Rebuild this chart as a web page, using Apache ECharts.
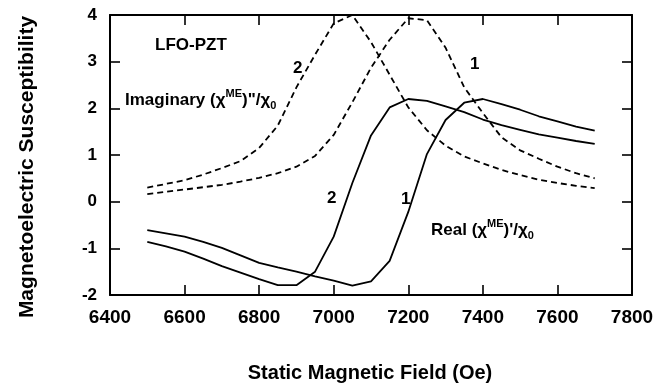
<!DOCTYPE html>
<html>
<head>
<meta charset="utf-8">
<script src="https://cdn.jsdelivr.net/npm/echarts@6/dist/echarts.min.js"></script>
<style>
  html, body { margin: 0; padding: 0; background: #fff; }
  #chart { width: 669px; height: 390px; }
</style>
</head>
<body>
<div id="chart"></div>
<script>
// Static magnetic field (Oe), sampled every 50 Oe
const field = [6500, 6550, 6600, 6650, 6700, 6750, 6800, 6850, 6900, 6950,
               7000, 7050, 7100, 7150, 7200, 7250, 7300, 7350, 7400, 7450,
               7500, 7550, 7600, 7650, 7700];

// Real part (chi^ME)'/chi_0, samples 1 and 2
const real1 = [-0.61, -0.68, -0.75, -0.86, -0.99, -1.15, -1.31, -1.41, -1.50, -1.60,
               -1.69, -1.80, -1.71, -1.27, -0.22, 1.02, 1.75, 2.12, 2.20, 2.09,
               1.97, 1.83, 1.72, 1.61, 1.52];
const real2 = [-0.86, -0.96, -1.07, -1.22, -1.38, -1.52, -1.66, -1.79, -1.79, -1.50,
               -0.75, 0.40, 1.42, 2.02, 2.20, 2.16, 2.04, 1.92, 1.76, 1.64,
               1.54, 1.44, 1.37, 1.30, 1.24];

// Imaginary part (chi^ME)''/chi_0, samples 1 and 2
const imag1 = [0.16, 0.21, 0.26, 0.31, 0.36, 0.43, 0.51, 0.61, 0.75, 0.98,
               1.43, 2.13, 2.87, 3.47, 3.93, 3.89, 3.30, 2.45, 1.90, 1.38,
               1.10, 0.92, 0.75, 0.61, 0.50];
const imag2 = [0.30, 0.38, 0.46, 0.58, 0.72, 0.87, 1.15, 1.63, 2.45, 3.15,
               3.82, 4.00, 3.42, 2.72, 2.02, 1.53, 1.20, 0.97, 0.82, 0.68,
               0.57, 0.47, 0.40, 0.34, 0.29];

const xTicks = { min: 6400, max: 7800, step: 200 };
const yTicks = { min: -2, max: 4, step: 1 };

const FONT = '"Liberation Sans", Arial, sans-serif';
const pairs = vals => field.map((f, i) => [f, vals[i]]);

const chart = echarts.init(document.getElementById('chart'), null, { renderer: 'canvas' });

const tickIn = { show: true, inside: true, length: 10, lineStyle: { color: '#000', width: 1.6 } };
const frameLine = { show: true, onZero: false, lineStyle: { color: '#000', width: 2 } };

function lineSeries(name, vals, dashed) {
  return {
    name, type: 'line', data: pairs(vals), showSymbol: false, smooth: false,
    xAxisIndex: 0, yAxisIndex: 0, animation: false,
    lineStyle: { color: '#000', width: 1.8, type: dashed ? [6, 4] : 'solid' }
  };
}

const txt = (x, y, text, size, extra, rotation) => ({
  type: 'text', x, y, silent: true, rotation: rotation || 0,
  style: Object.assign({
    text, fill: '#000', fontFamily: FONT, fontWeight: 'bold', fontSize: size,
    textVerticalAlign: 'middle'
  }, extra || {})
});

const chiRich = {
  b: { fontFamily: FONT, fontWeight: 'bold', fontSize: 17, lineHeight: 23, verticalAlign: 'middle' },
  sup: { fontFamily: FONT, fontWeight: 'bold', fontSize: 11, lineHeight: 23, verticalAlign: 'top' },
  sub: { fontFamily: FONT, fontWeight: 'bold', fontSize: 11, lineHeight: 17, verticalAlign: 'bottom', padding: [8, 0, 0, 0] }
};

chart.setOption({
  animation: false,
  backgroundColor: '#fff',
  grid: { left: 110, right: 37, top: 15, bottom: 95, containLabel: false },
  xAxis: [{
    type: 'value', min: xTicks.min, max: xTicks.max, interval: xTicks.step, position: 'bottom',
    axisLine: frameLine, axisTick: tickIn, splitLine: { show: false },
    axisLabel: { color: '#000', fontFamily: FONT, fontWeight: 'bold', fontSize: 19, margin: 13,
                 formatter: v => String(v) }
  }, {
    type: 'value', min: xTicks.min, max: xTicks.max, interval: xTicks.step, position: 'top',
    axisLine: frameLine, axisTick: tickIn, splitLine: { show: false }, axisLabel: { show: false }
  }],
  yAxis: [{
    type: 'value', min: yTicks.min, max: yTicks.max, interval: yTicks.step, position: 'left',
    axisLine: frameLine, axisTick: tickIn, splitLine: { show: false },
    axisLabel: { color: '#000', fontFamily: FONT, fontWeight: 'bold', fontSize: 17, margin: 13 }
  }, {
    type: 'value', min: yTicks.min, max: yTicks.max, interval: yTicks.step, position: 'right',
    axisLine: frameLine, axisTick: tickIn, splitLine: { show: false }, axisLabel: { show: false }
  }],
  series: [
    lineSeries('Imaginary 1', imag1, true),
    lineSeries('Imaginary 2', imag2, true),
    lineSeries('Real 1', real1, false),
    lineSeries('Real 2', real2, false)
  ],
  graphic: [
    txt(27, 167, 'Magnetoelectric Susceptibility', 21, { textAlign: 'center' }, Math.PI / 2),
    txt(370, 373, 'Static Magnetic Field (Oe)', 20, { textAlign: 'center' }),
    txt(155, 45, 'LFO-PZT', 17),
    {
      type: 'text', x: 125, y: 100, silent: true,
      style: { text: '{b|Imaginary (χ}{sup|ME}{b|)"/χ}{sub|0}', rich: chiRich, textVerticalAlign: 'middle', fill: '#000' }
    },
    {
      type: 'text', x: 431, y: 230, silent: true,
      style: { text: "{b|Real (χ}{sup|ME}{b|)'/χ}{sub|0}", rich: chiRich, textVerticalAlign: 'middle', fill: '#000' }
    },
    txt(293, 68, '2', 17),
    txt(470, 64, '1', 17),
    txt(327, 198, '2', 17),
    txt(401, 199, '1', 17)
  ]
});
</script>
</body>
</html>
